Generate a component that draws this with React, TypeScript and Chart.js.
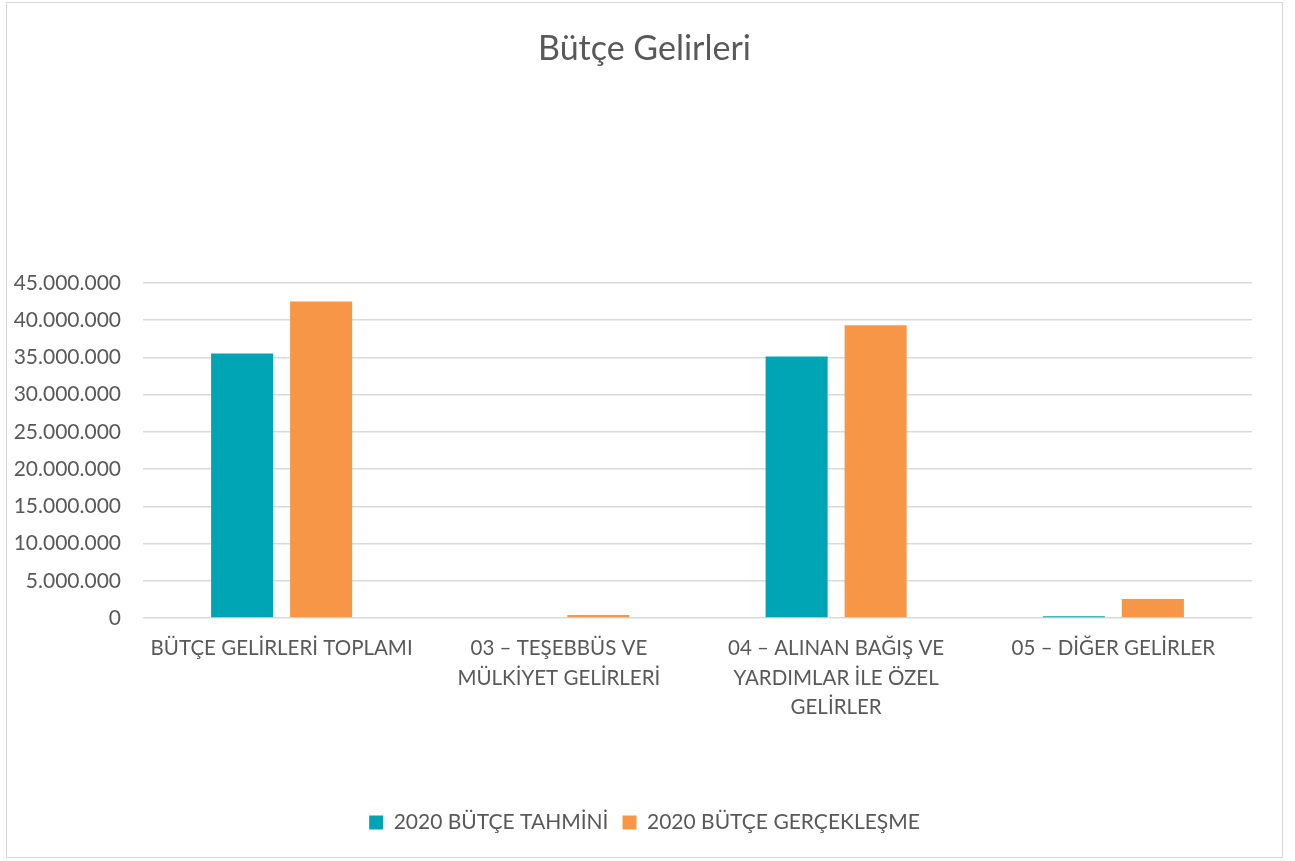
import React, { useEffect, useRef } from "react";
import { Chart, registerables } from "chart.js";

Chart.register(...registerables);

const categories: (string | string[])[] = [
  "BÜTÇE GELİRLERİ TOPLAMI",
  ["03 – TEŞEBBÜS VE", "MÜLKİYET GELİRLERİ"],
  ["04 – ALINAN BAĞIŞ VE", "YARDIMLAR İLE ÖZEL", "GELİRLER"],
  "05 – DİĞER GELİRLER",
];
const seriesNames = ["2020 BÜTÇE TAHMİNİ", "2020 BÜTÇE GERÇEKLEŞME"];
const tahmini = [35500000, 0, 35100000, 250000];
const gerceklesme = [42500000, 400000, 39300000, 2550000];
const yMax = 45000000;
const yStep = 5000000;

const FONT = "Lato, 'Open Sans', sans-serif";
const TEXT = "#595959";

function fmt(v: number): string {
  return Math.round(v).toString().replace(/\B(?=(\d{3})+(?!\d))/g, ".");
}

export default function App() {
  const ref = useRef<HTMLCanvasElement | null>(null);
  useEffect(() => {
    if (!ref.current) return;
    const chart = new Chart(ref.current, {
      type: "bar",
      data: {
        labels: categories,
        datasets: [
          {
            label: seriesNames[0],
            data: tahmini,
            backgroundColor: "#00a5b5",
            categoryPercentage: 0.57,
            barPercentage: 0.785,
          },
          {
            label: seriesNames[1],
            data: gerceklesme,
            backgroundColor: "#f79646",
            categoryPercentage: 0.57,
            barPercentage: 0.785,
          },
        ],
      },
      options: {
        animation: false,
        responsive: false,
        maintainAspectRatio: false,
        layout: { padding: { left: 0, right: 0, top: 0, bottom: 14 } },
        plugins: {
          title: {
            display: true,
            text: "Bütçe Gelirleri",
            color: TEXT,
            font: { family: FONT, size: 34, weight: "normal" },
            padding: { top: 26, bottom: 213 },
          },
          legend: {
            position: "bottom",
            labels: {
              color: TEXT,
              font: { family: FONT, size: 21 },
              boxWidth: 14,
              boxHeight: 14,
              padding: 14,
            },
          },
          tooltip: { enabled: false },
        },
        scales: {
          x: {
            grid: { display: false, drawTicks: false },
            border: { display: false },
            ticks: {
              color: TEXT,
              font: { family: FONT, size: 20.5, lineHeight: 1.46 },
              padding: 15,
              maxRotation: 0,
              autoSkip: false,
            },
            afterFit: (s: any) => {
              s.height = 180;
            },
          },
          y: {
            min: 0,
            max: yMax,
            grid: { color: "#d9d9d9", lineWidth: 1.5, drawTicks: false },
            border: { display: false },
            ticks: {
              stepSize: yStep,
              color: TEXT,
              font: { family: FONT, size: 21 },
              padding: 22,
              callback: (v: any) => fmt(Number(v)),
            },
            afterFit: (s: any) => {
              s.width = 136;
            },
          },
          yRightSpace: {
            position: "right",
            min: 0,
            max: yMax,
            grid: { display: false, drawTicks: false },
            border: { display: false },
            ticks: { display: false },
            afterFit: (s: any) => {
              s.width = 30;
            },
          },
        },
      },
    });
    return () => chart.destroy();
  }, []);
  return (
    <div
      style={{
        position: "absolute",
        left: 6,
        top: 2,
        width: 1275,
        height: 854,
        border: "1px solid #d9d9d9",
        background: "#fff",
      }}
    >
      <canvas ref={ref} width={1275} height={854} style={{ display: "block" }} />
    </div>
  );
}
